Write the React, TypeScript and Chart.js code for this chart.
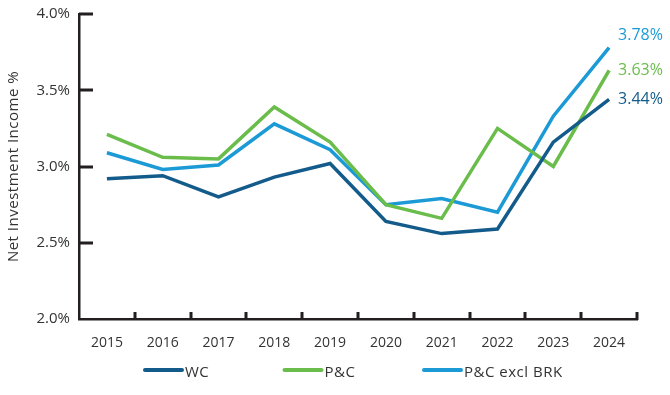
import React, { useEffect, useRef } from "react";
import { Chart, registerables } from "chart.js";

Chart.register(...registerables);

const years = ["2015", "2016", "2017", "2018", "2019", "2020", "2021", "2022", "2023", "2024"];
const wcValues = [2.92, 2.94, 2.8, 2.93, 3.02, 2.64, 2.56, 2.59, 3.16, 3.44];
const pcValues = [3.21, 3.06, 3.05, 3.39, 3.16, 2.75, 2.66, 3.25, 3.0, 3.63];
const pcExclBrkValues = [3.09, 2.98, 3.01, 3.28, 3.11, 2.75, 2.79, 2.7, 3.33, 3.78];
const yTickValues = [2.5, 3, 3.5, 4];
const seriesNames = ["WC", "P&C", "P&C excl BRK"];
const seriesColors = ["#135b8b", "#6abd4b", "#1c9ad6"];
const endLabels = ["3.44%", "3.63%", "3.78%"];
const endLabelOffsets = [0, 0, -12];
const yTitle = "Net Investment Income %";

const FONT = "'Open Sans', sans-serif";
const AXIS_COLOR = "#231f20";
const TEXT_COLOR = "#333333";

const decorPlugin = {
  id: "decor",
  afterDraw(chart: any) {
    const ctx: CanvasRenderingContext2D = chart.ctx;
    const area = chart.chartArea;
    const xs = chart.scales["x"];
    const ys = chart.scales["y"];
    ctx.save();
    // inward tick marks
    ctx.fillStyle = AXIS_COLOR;
    yTickValues.forEach((v) => {
      const py = ys.getPixelForValue(v);
      ctx.fillRect(area.left, Math.round(py) - 1.5, 14, 3);
    });
    const stepPx = xs.getPixelForValue(1) - xs.getPixelForValue(0);
    years.forEach((_y, i) => {
      const px = xs.getPixelForValue(i) + stepPx / 2;
      ctx.fillRect(Math.round(px) - 1.5, area.bottom - 7, 3, 8);
    });
    // end labels
    ctx.font = `16px ${FONT}`;
    ctx.textAlign = "left";
    ctx.textBaseline = "middle";
    for (let di = 0; di < chart.data.datasets.length; di++) {
      const meta = chart.getDatasetMeta(di);
      const pt = meta.data[meta.data.length - 1];
      ctx.fillStyle = seriesColors[di];
      ctx.fillText(endLabels[di], pt.x + 9, pt.y + endLabelOffsets[di]);
    }
    // y axis title
    ctx.save();
    ctx.translate(14, (area.top + area.bottom) / 2);
    ctx.rotate(-Math.PI / 2);
    ctx.font = `15px ${FONT}`;
    try { (ctx as any).letterSpacing = "0.5px"; } catch (e) {}
    ctx.fillStyle = TEXT_COLOR;
    ctx.textAlign = "center";
    ctx.textBaseline = "middle";
    ctx.fillText(yTitle, 0, 0);
    ctx.restore();
    // legend
    const legendY = area.bottom + 51;
    const startX = area.left + 65;
    const itemSpacing = 139.5;
    ctx.font = `15px ${FONT}`;
    try { (ctx as any).letterSpacing = "0.5px"; } catch (e) {}
    ctx.textAlign = "left";
    ctx.textBaseline = "middle";
    seriesNames.forEach((name, i) => {
      const sx = startX + i * itemSpacing;
      ctx.strokeStyle = seriesColors[i];
      ctx.lineWidth = 4;
      ctx.lineCap = "round";
      ctx.beginPath();
      ctx.moveTo(sx + 1, legendY);
      ctx.lineTo(sx + 38, legendY);
      ctx.stroke();
      ctx.fillStyle = TEXT_COLOR;
      ctx.fillText(name, sx + 41, legendY + 3);
    });
    ctx.restore();
  },
};

export default function App() {
  const canvasRef = useRef<HTMLCanvasElement | null>(null);

  useEffect(() => {
    document.body.style.margin = "0";
    const canvas = canvasRef.current;
    if (!canvas) return;
    const series = [wcValues, pcValues, pcExclBrkValues];
    const chart = new Chart(canvas, {
      type: "line",
      data: {
        labels: years,
        datasets: series.map((vals, i) => ({
          label: seriesNames[i],
          data: vals,
          borderColor: seriesColors[i],
          backgroundColor: seriesColors[i],
          borderWidth: 3.5,
          pointRadius: 0,
          tension: 0,
          fill: false,
        })),
      },
      options: {
        animation: false,
        responsive: false,
        maintainAspectRatio: false,
        layout: { padding: { top: 0, right: 33, left: 0, bottom: 35 } },
        plugins: {
          legend: { display: false },
          tooltip: { enabled: false },
        },
        scales: {
          x: {
            offset: true,
            afterFit(scale: any) {
              scale.height = 41;
            },
            grid: { display: false, drawTicks: false },
            border: { display: true, color: AXIS_COLOR, width: 2.5 },
            ticks: { color: TEXT_COLOR, font: { family: FONT, size: 14 }, padding: 16, maxRotation: 0 },
          },
          y: {
            min: 2,
            max: 4,
            afterFit(scale: any) {
              scale.width = 79;
              scale.paddingTop = 14;
              scale.paddingBottom = 0;
            },
            ticks: {
              stepSize: 0.5,
              color: TEXT_COLOR,
              font: { family: FONT, size: 15 },
              padding: 9,
              callback: (v: any) => Number(v).toFixed(1) + "%",
            },
            grid: { display: false, drawTicks: false },
            border: { display: true, color: AXIS_COLOR, width: 2.5 },
          },
        },
      },
      plugins: [decorPlugin],
    });
    return () => chart.destroy();
  }, []);

  return (
    <div style={{ width: 670, height: 395 }}>
      <canvas ref={canvasRef} width={670} height={395} />
    </div>
  );
}
